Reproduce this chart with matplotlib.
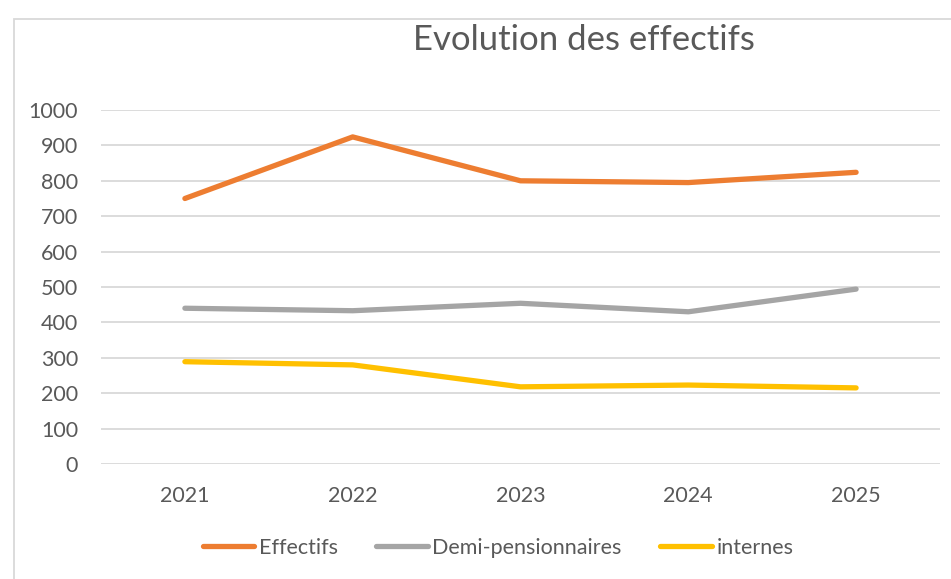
import matplotlib.pyplot as plt
from matplotlib.patches import Rectangle

years = ['2021', '2022', '2023', '2024', '2025']
effectifs = [750, 924, 800, 795, 824]
demi_pensionnaires = [440, 433, 454, 430, 494]
internes = [289, 280, 218, 223, 215]

yticks = list(range(0, 1001, 100))

W, H = 951, 579
plt.rcParams['font.family'] = ['Lato', 'DejaVu Sans']

fig = plt.figure(figsize=(W / 100, H / 100), dpi=100)

# chart frame (cut off on the right and bottom)
fig.patches.append(Rectangle((14 / W, -0.05), 1.1, 1 - 19 / H + 0.05,
                             transform=fig.transFigure, fill=False,
                             edgecolor='#d9d9d9', linewidth=1.3))

ax = fig.add_axes([101 / W, 1 - 464 / H, (940 - 101) / W, (464 - 110) / H])

x = range(len(years))
series = [
    ('Effectifs', effectifs, '#ED7D31'),
    ('Demi-pensionnaires', demi_pensionnaires, '#A5A5A5'),
    ('internes', internes, '#FFC000'),
]
for label, values, color in series:
    ax.plot(x, values, color=color, linewidth=3.8, solid_capstyle='round',
            solid_joinstyle='round', label=label, zorder=3)

ax.set_xlim(-0.5, len(years) - 0.5)
ax.set_ylim(0, 1000)
ax.set_yticks(yticks)
ax.set_xticks(list(x))
ax.set_xticklabels(years)
ax.grid(axis='y', color='#d9d9d9', linewidth=1.3)
for s in ax.spines.values():
    s.set_visible(False)
ax.tick_params(length=0, labelsize=15.5, labelcolor='#595959')
ax.tick_params(axis='y', pad=16.5)
ax.tick_params(axis='x', pad=16)

fig.text(584 / W, 1 - 40 / H, 'Evolution des effectifs', ha='center',
         va='center', fontsize=25, color='#595959')

fig.legend(loc='center', bbox_to_anchor=(498 / W, 1 - 548 / H), ncol=3,
           frameon=False, fontsize=15.5, handlelength=2.4, handletextpad=0.2,
           columnspacing=1.8, labelcolor='#595959')

fig.savefig('out.png', dpi=100)
